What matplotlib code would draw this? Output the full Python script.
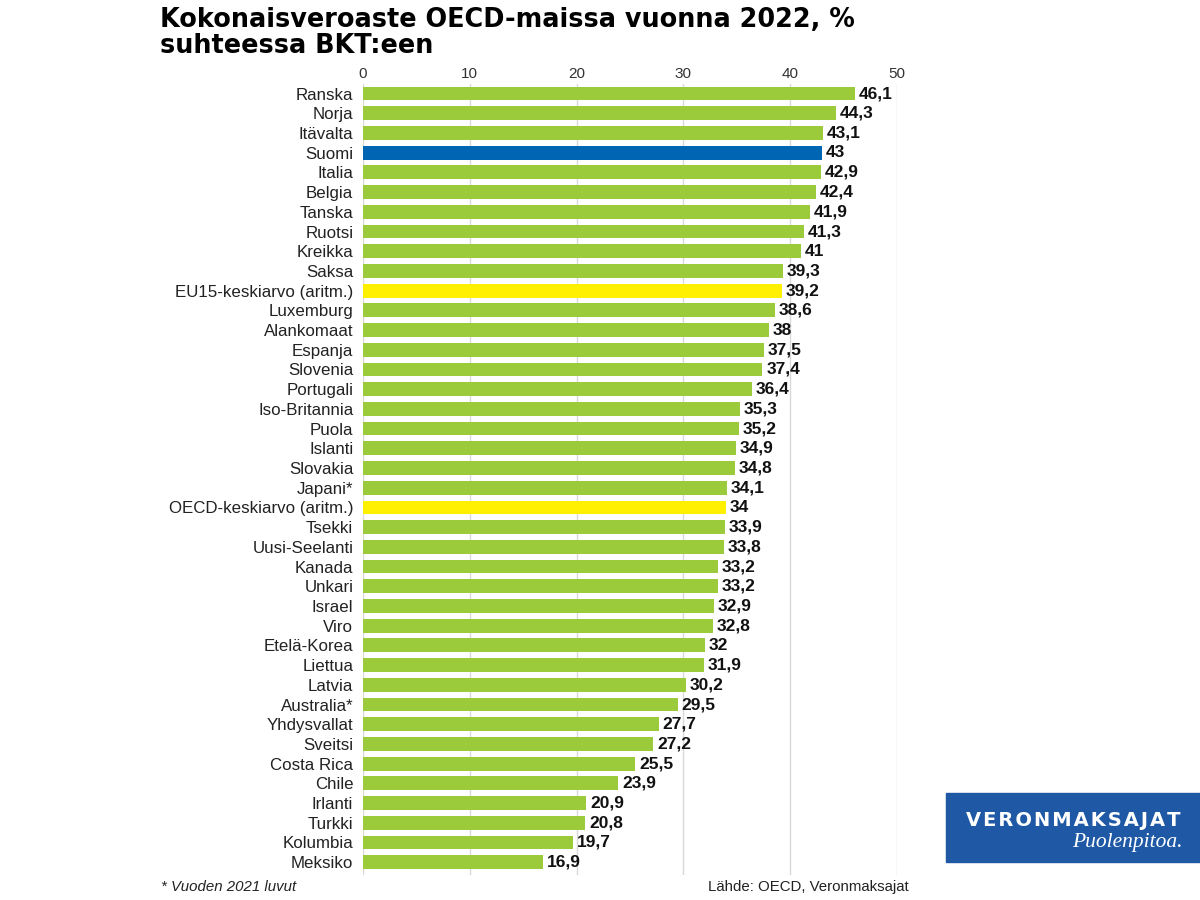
import matplotlib.pyplot as plt
from matplotlib.patches import Rectangle

plt.rcParams['font.family'] = ['Liberation Sans', 'DejaVu Sans']

countries = ['Ranska', 'Norja', 'Itävalta', 'Suomi', 'Italia', 'Belgia', 'Tanska',
             'Ruotsi', 'Kreikka', 'Saksa', 'EU15-keskiarvo (aritm.)', 'Luxemburg',
             'Alankomaat', 'Espanja', 'Slovenia', 'Portugali', 'Iso-Britannia',
             'Puola', 'Islanti', 'Slovakia', 'Japani*', 'OECD-keskiarvo (aritm.)',
             'Tsekki', 'Uusi-Seelanti', 'Kanada', 'Unkari', 'Israel', 'Viro',
             'Etelä-Korea', 'Liettua', 'Latvia', 'Australia*', 'Yhdysvallat',
             'Sveitsi', 'Costa Rica', 'Chile', 'Irlanti', 'Turkki', 'Kolumbia',
             'Meksiko']
values = [46.1, 44.3, 43.1, 43, 42.9, 42.4, 41.9, 41.3, 41, 39.3, 39.2, 38.6, 38,
          37.5, 37.4, 36.4, 35.3, 35.2, 34.9, 34.8, 34.1, 34, 33.9, 33.8, 33.2,
          33.2, 32.9, 32.8, 32, 31.9, 30.2, 29.5, 27.7, 27.2, 25.5, 23.9, 20.9,
          20.8, 19.7, 16.9]

green = '#9BCB3B'
colors = []
for c in countries:
    if c == 'Suomi':
        colors.append('#0066B3')
    elif 'keskiarvo' in c:
        colors.append('#FFEF00')
    else:
        colors.append(green)

fig = plt.figure(figsize=(12, 9), dpi=100)
n = len(countries)
ax = fig.add_axes([0.3025, 0.028, 0.445, 0.879])
y = list(range(n))
ax.barh(y, values, height=0.7, color=colors, zorder=2)
ax.set_ylim(n - 1 + 0.64, -0.5)
ax.set_xlim(0, 50)
ax.set_xticks(range(0, 51, 10))
ax.xaxis.tick_top()
ax.tick_params(axis='x', length=0, labelsize=11, colors='#333333', pad=2)
ax.set_yticks(y)
ax.set_yticklabels(countries, fontsize=12.2, color='#222222')
ax.tick_params(axis='y', length=0, pad=7)
ax.grid(axis='x', color='#D9D9D9', linewidth=1, zorder=0)
for s in ax.spines.values():
    s.set_visible(False)

for yi, v in zip(y, values):
    txt = ('%g' % v).replace('.', ',')
    ax.text(v + 0.35, yi, txt, va='center', ha='left', fontsize=12.5,
            fontweight='bold', color='#111111')

fig.text(0.133, 1 - 27 / 900, 'Kokonaisveroaste OECD-maissa vuonna 2022, %',
         fontsize=18.4, fontweight='bold', va='baseline', ha='left',
         family=['DejaVu Sans'])
fig.text(0.133, 1 - 53 / 900, 'suhteessa BKT:een',
         fontsize=18.4, fontweight='bold', va='baseline', ha='left',
         family=['DejaVu Sans'])

fig.text(0.134, 0.01, '* Vuoden 2021 luvut', fontsize=10.8, style='italic', color='#222222')
fig.text(0.757, 0.01, 'Lähde: OECD, Veronmaksajat', fontsize=10.8, color='#222222',
         ha='right')

# logo
fig.patches.append(Rectangle((946 / 1200, 1 - 862 / 900), 254 / 1200, 69 / 900,
                             transform=fig.transFigure, color='#1F58A5', zorder=5))
fig.text(1073 / 1200, 1 - 820 / 900, '\u200a'.join('VERONMAKSAJAT'), color='white',
         fontsize=14, fontweight='bold', ha='center', va='center', zorder=6,
         family=['DejaVu Sans'])
fig.text(1183 / 1200, 1 - 843 / 900, 'Puolenpitoa.', color='white', fontsize=15.5,
         style='italic', ha='right', va='center', zorder=6,
         family=['Liberation Serif', 'DejaVu Serif'])

fig.savefig('out.png', dpi=100)
